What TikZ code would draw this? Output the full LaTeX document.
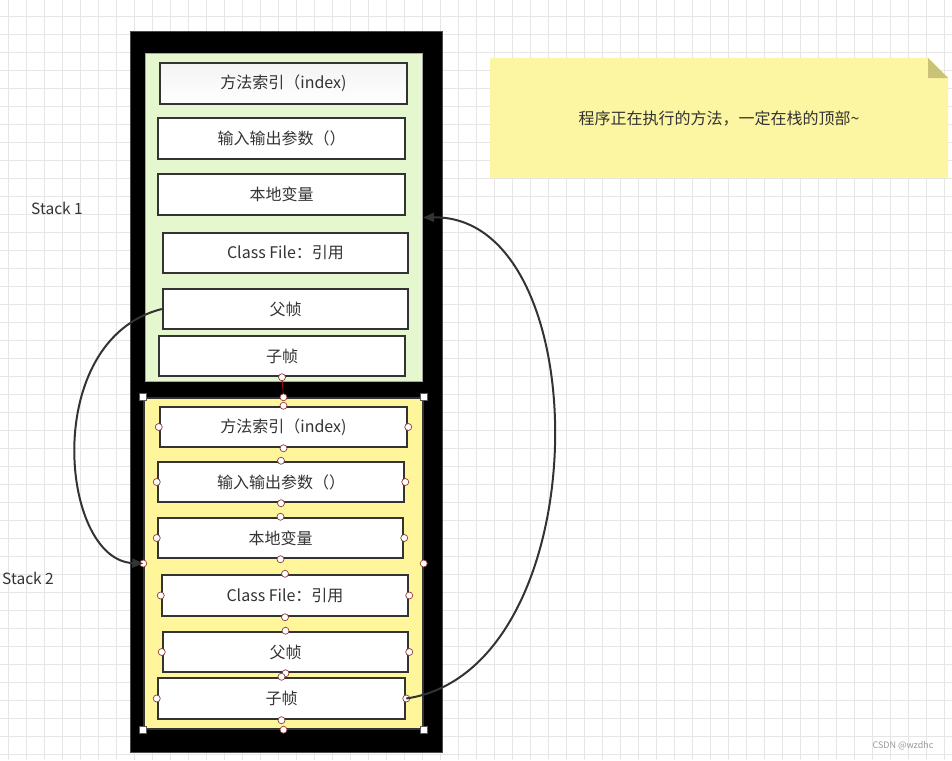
\documentclass[tikz,border=0pt]{standalone}
\usepackage{fontspec}
\setmainfont{Noto Sans CJK SC}
\usetikzlibrary{arrows.meta}
\definecolor{ink}{HTML}{333333}
\definecolor{gridc}{HTML}{E6E6E6}
\definecolor{greenp}{HTML}{E4F7CF}
\definecolor{yellowp}{HTML}{FFF59A}
\definecolor{notec}{HTML}{FCF5A2}
\definecolor{foldc}{HTML}{C9C277}
\definecolor{handlec}{HTML}{8A3B3B}
\begin{document}
\begin{tikzpicture}[x=1pt,y=-1pt,
  fbox/.style={draw=ink, line width=2.5pt, fill=white, text=ink, inner sep=0pt,
    font=\fontsize{16}{19}\selectfont},
  gbox/.style={fbox, top color=gray!9, bottom color=white},
  panel/.style={inner sep=0pt},
  conn/.style={draw=ink, line width=2pt, -{Triangle[length=11pt,width=9pt]}},
  hc/.style={circle, draw=handlec, line width=0.7pt, fill=white, minimum size=7pt, inner sep=0pt},
  hs/.style={rectangle, draw=gray!70!black, line width=0.7pt, fill=white, minimum size=7pt, inner sep=0pt},
  lbl/.style={text=ink, font=\fontsize{15.5}{18}\selectfont, inner sep=0pt}
]
\useasboundingbox (0,0) rectangle (952,760);
\fill[white] (0,0) rectangle (952,760);
% grid
\foreach \gx in {8,26,...,944} \draw[gridc, line width=0.8pt] (\gx,0) -- (\gx,760);
\foreach \gy in {16,34,...,758} \draw[gridc, line width=0.8pt] (0,\gy) -- (952,\gy);

% outer black frame
\node[panel, draw=gray!60!black, line width=1pt, fill=black, minimum width=312pt, minimum height=721pt] (frame) at (286.5,392) {};

% panels
\node[panel, draw=gray!70, line width=1.2pt, fill=greenp, minimum width=277pt, minimum height=328pt] (p1) at (284,217.5) {};
\node[panel, draw=ink, line width=1.5pt, fill=yellowp, minimum width=279pt, minimum height=331pt] (p2) at (283.5,563.5) {};

% stack 1
\node[gbox, minimum width=247pt, minimum height=41pt] (a1) at (283.5,83.5) {方法索引（index)};
\node[fbox, minimum width=247pt, minimum height=41pt] (a2) at (281.5,138.5) {输入输出参数（）};
\node[fbox, minimum width=247pt, minimum height=41pt] (a3) at (281.5,194.5) {本地变量};
\node[fbox, minimum width=245pt, minimum height=40pt] (a4) at (285.5,253) {Class File：引用};
\node[fbox, minimum width=245pt, minimum height=40pt] (a5) at (285.5,309) {父帧};
\node[fbox, minimum width=246pt, minimum height=40pt] (a6) at (282,356) {子帧};

% stack 2
\node[fbox, minimum width=247pt, minimum height=40pt] (b1) at (283.5,427) {方法索引（index)};
\node[fbox, minimum width=246pt, minimum height=40pt] (b2) at (281,482) {输入输出参数（）};
\node[fbox, minimum width=245pt, minimum height=40pt] (b3) at (280.5,538) {本地变量};
\node[fbox, minimum width=246pt, minimum height=41pt] (b4) at (285,595.5) {Class File：引用};
\node[fbox, minimum width=245pt, minimum height=40pt] (b5) at (285.5,652) {父帧};
\node[fbox, minimum width=247pt, minimum height=41pt] (b6) at (281.5,698.5) {子帧};

% selection link
\draw[red!70!black, line width=0.8pt] (a6.south) -- (p2.north);

% handles
\foreach \n in {b1,b2,b3,b4,b5,b6}{
  \foreach \a in {north,south,east,west}{
    \node[hc] at (\n.\a) {};
  }
}
\foreach \a in {north,south,east,west} \node[hc] at (p2.\a) {};
\foreach \a in {north west,north east,south west,south east} \node[hs] at (p2.\a) {};
\node[hc] at (a6.south) {};

% stack labels
\node[lbl] (s1) at (57,208) {Stack 1};
\node[lbl] (s2) at (28,578) {Stack 2};

% note
\fill[notec] (490,58) -- (928,58) -- (948,78) -- (948,178) -- (490,178) -- cycle;
\fill[foldc] (928,58) -- (948,78) -- (928,78) -- cycle;
\node[lbl, font=\fontsize{16}{19}\selectfont] (note) at (719,119) {程序正在执行的方法，一定在栈的顶部\char`\~};

% connectors
\draw[conn] (a5.west) .. controls (40,340) and (60,560) .. (p2.west);
\draw[conn] (b6.east) .. controls (600,670) and (600,215) .. (p1.east);

% watermark
\node[text=gray!80, font=\fontsize{9}{11}\selectfont, inner sep=0pt] (wm) at (903,746) {CSDN @wzdhc};
\end{tikzpicture}
\end{document}
